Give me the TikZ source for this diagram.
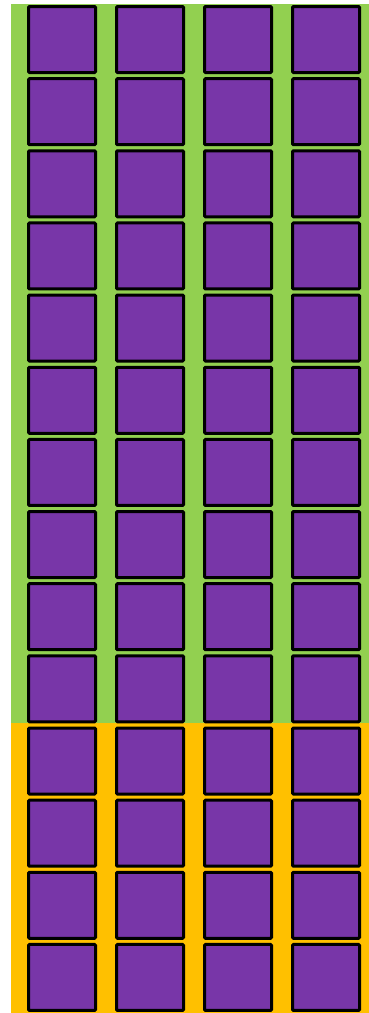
\documentclass[tikz,border=0pt]{standalone}
\definecolor{bggreen}{RGB}{146,208,80}
\definecolor{bgorange}{RGB}{255,192,0}
\definecolor{cellpurple}{RGB}{120,54,168}
\tikzset{
    cell/.style={draw=black, fill=cellpurple, line width=3pt, rounded corners=1pt,
        minimum width=67pt, minimum height=66pt, inner sep=0pt}
}
\begin{document}
\begin{tikzpicture}[x=1pt, y=-1pt]
            \useasboundingbox (0,0) rectangle (369,1013);
            \fill[bggreen] (11,4) rectangle (369,723);
            \fill[bgorange] (11,723) rectangle (369,1013);
            
            \foreach \r in {0,...,13} {
                \foreach \c in {0,1,2,3} {
                    \node[cell] (c-\r-\c) at ({62 + 88*\c}, {39.5 + 72.15*\r}) {};
                }
            }
        \end{tikzpicture}
\end{document}
